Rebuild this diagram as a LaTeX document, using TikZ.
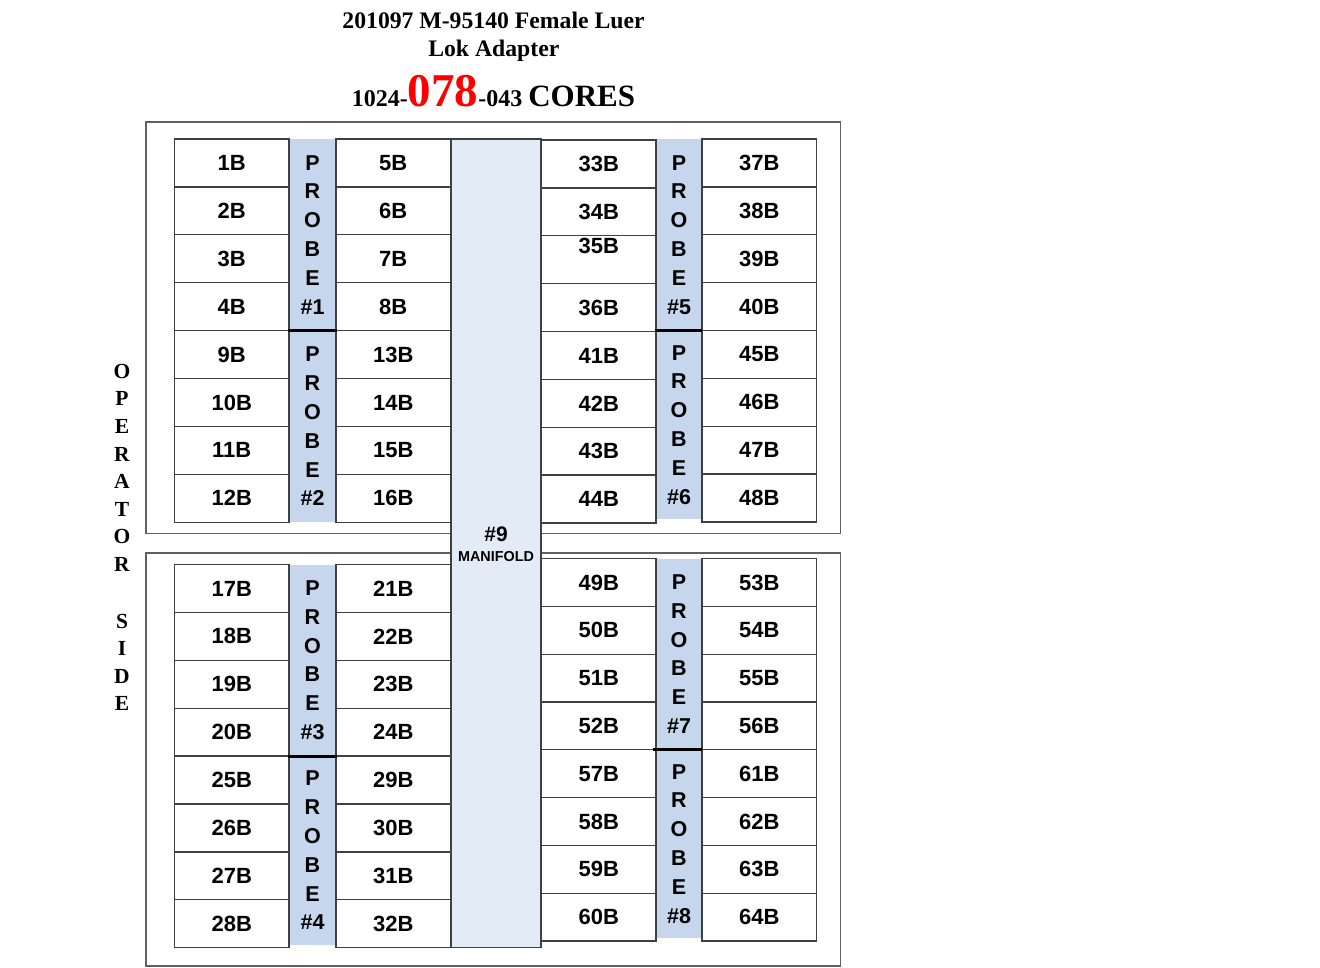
\documentclass[tikz,border=0pt]{standalone}
\usepackage{fontspec}
\setmainfont{Liberation Serif}
\newfontfamily\arialf{Liberation Sans}
\definecolor{probeblue}{HTML}{C6D6EC}
\definecolor{manblue}{HTML}{E3EBF6}
\definecolor{cellline}{HTML}{404040}
\definecolor{boxline}{HTML}{606060}
\definecolor{titlered}{HTML}{FF0000}
\begin{document}
\begin{tikzpicture}[x=1pt,y=-1pt,
  cell/.style={draw=cellline, line width=1.3pt, minimum width=114.5pt, minimum height=47.9pt, inner sep=0pt, fill=white, font=\arialf\bfseries\fontsize{22}{24}\selectfont},
  celltext/.style={inner sep=0pt, font=\arialf\bfseries\fontsize{22}{24}\selectfont},
  probe/.style={fill=probeblue, inner sep=0pt, minimum width=46pt, align=center, font=\arialf\bfseries\fontsize{21.5}{28.8}\selectfont},
  outerbox/.style={draw=boxline, line width=1.3pt, inner sep=0pt, minimum width=694.5pt},
  sep/.style={draw=black, line width=2.6pt},
  titlefont/.style={inner sep=0pt, anchor=base, font=\bfseries\fontsize{23.7}{26}\selectfont}]
\useasboundingbox (0,0) rectangle (1320,967);

% title
\node[titlefont] (t1) at (493.5,28.3) {201097 M-95140 Female Luer};
\node[titlefont] (t2) at (493.8,56.7) {Lok Adapter};
\node[titlefont] (t3) at (493.5,106) {\fontsize{24}{26}\selectfont 1024-\textcolor{titlered}{\fontsize{47}{50}\selectfont 078}-043 \fontsize{31}{34}\selectfont CORES};

% outer boxes
\node[outerbox, minimum height=411.5pt] (topbox) at (493.25,327.75) {};
\node[outerbox, minimum height=413pt] (botbox) at (493.25,759.5) {};

% operator side
\node[inner sep=0pt, align=center, font=\bfseries\fontsize{21.5}{27.6}\selectfont] (op) at (122,537.5)
  {O\\P\\E\\R\\A\\T\\O\\R\\[29pt]S\\I\\D\\E};

% probe strips
\node[probe, minimum width=47pt, minimum height=191.5pt] (p1) at (312.5,234.75) {P\\R\\O\\B\\E\\\#1};
\node[probe, minimum width=47pt, minimum height=191pt] (p2) at (312.5,426.5) {P\\R\\O\\B\\E\\\#2};
\node[probe, minimum width=47pt, minimum height=191.5pt] (p3) at (312.5,660.25) {P\\R\\O\\B\\E\\\#3};
\node[probe, minimum width=47pt, minimum height=189pt] (p4) at (312.5,850.5) {P\\R\\O\\B\\E\\\#4};
\node[probe, minimum height=191.5pt] (p5) at (679,234.75) {P\\R\\O\\B\\E\\\#5};
\node[probe, minimum height=188.5pt] (p6) at (679,424.75) {P\\R\\O\\B\\E\\\#6};
\node[probe, minimum height=190.9pt] (p7) at (679,654.05) {P\\R\\O\\B\\E\\\#7};
\node[probe, minimum height=188.5pt] (p8) at (679,843.75) {P\\R\\O\\B\\E\\\#8};

% manifold
\node[draw=cellline, line width=1.3pt, fill=manblue, minimum width=90pt, minimum height=808.5pt, inner sep=0pt] (man) at (496,543.25) {};
\node[inner sep=0pt, font=\arialf\bfseries\fontsize{21}{24}\selectfont] (m9) at (496,534.7) {\#9};
\node[inner sep=0pt, font=\arialf\bfseries\fontsize{14.4}{16}\selectfont] (mlab) at (496,556.7) {MANIFOLD};

% cells
\foreach \b/\xl/\xr/\ytl/\ytr/\st in {0/231.75/393.25/139/139/47.9, 16/231.75/393.25/564.5/564.5/47.9, 32/598.85/759.25/140/139/47.875, 48/598.85/759.25/558.6/558.6/47.8}{
  \foreach \r in {0,...,7}{
    \pgfmathtruncatemacro{\L}{\b+\r+1+4*(\r>3)}
    \pgfmathtruncatemacro{\R}{\L+4}
    \pgfmathsetmacro{\yl}{\ytl+\st*(\r+0.5)}
    \pgfmathsetmacro{\yr}{\ytr+\st*(\r+0.5)}
    \node[cell] (c\L) at (\xl,\yl) {\ifnum\L=35 \else\L B\fi};
    \node[cell] (c\R) at (\xr,\yr) {\R B};
  }
}
\node[celltext] (t35) at (598.85,246) {35B};

% probe separators
\draw[sep] ([xshift=-1pt]p1.south west) -- ([xshift=1pt]p1.south east);
\draw[sep] ([xshift=-1pt]p3.south west) -- ([xshift=1pt]p3.south east);
\draw[sep] ([xshift=-1pt]p5.south west) -- ([xshift=0pt]p5.south east);
\draw[sep] ([xshift=-3pt]p7.south west) -- ([xshift=0pt]p7.south east);
\end{tikzpicture}
\end{document}
